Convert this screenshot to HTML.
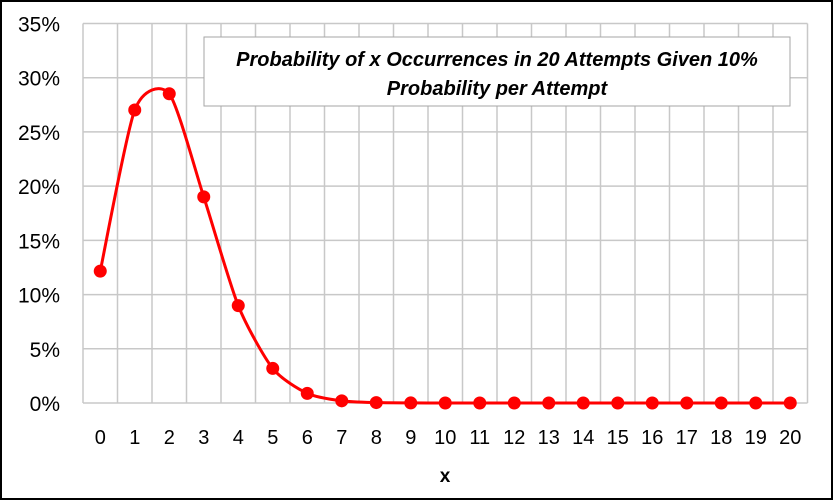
<!DOCTYPE html>
<html><head><meta charset="utf-8"><style>
html,body{margin:0;padding:0;background:#fff}
svg{display:block;font-family:"Liberation Sans",sans-serif}
</style></head><body>
<svg id="c" width="833" height="500" viewBox="0 0 833 500">
<rect x="1" y="1" width="831" height="498" fill="#fff" stroke="#000" stroke-width="2"/>
<g id="grid"></g>
<g id="ylab"></g>
<g id="xlab"></g>
<path id="curve" fill="none" stroke="#ff0000" stroke-width="3"/>
<g id="pts"></g>
<text x="445" y="482" text-anchor="middle" font-size="19" font-weight="bold" fill="#000">x</text>
<rect x="204" y="37" width="586" height="69" fill="#fff" stroke="#a6a6a6" stroke-width="1"/>
<text x="497" y="66" text-anchor="middle" font-size="20" font-weight="bold" font-style="italic" fill="#000">Probability of x Occurrences in 20 Attempts Given 10%</text>
<text x="497" y="95" text-anchor="middle" font-size="20" font-weight="bold" font-style="italic" fill="#000">Probability per Attempt</text>
</svg>
<script>
const categories=[0,1,2,3,4,5,6,7,8,9,10,11,12,13,14,15,16,17,18,19,20];
const values=[12.16,27.02,28.52,19.01,8.98,3.19,0.89,0.20,0.04,0.007,0.001,0,0,0,0,0,0,0,0,0,0];
const yTicks=[0,5,10,15,20,25,30,35];
const L=83,R=807.5,T=23.5,B=403,yMax=35;
const step=(R-L)/categories.length;
const X=i=>L+step*(i+0.5);
const Y=v=>B-(v/yMax)*(B-T);
const ns="http://www.w3.org/2000/svg";
const mk=(t,a)=>{const e=document.createElementNS(ns,t);for(const k in a)e.setAttribute(k,a[k]);return e;};
const grid=document.getElementById('grid');
yTicks.forEach(t=>{
  const l=mk('line',{x1:L,x2:R,y1:Y(t),y2:Y(t),stroke:'#c8c8c8','stroke-width':1.5});
  
  
  grid.appendChild(l);
  const tx=mk('text',{x:60,y:Y(t)+8,'text-anchor':'end','font-size':21,fill:'#000'});
  tx.textContent=t+'%';
  
  
  document.getElementById('ylab').appendChild(tx);
});
for(let i=0;i<=categories.length;i++){
  const l=mk('line',{x1:L+step*i,x2:L+step*i,y1:T,y2:B,stroke:'#c8c8c8','stroke-width':1.5});
  
  
  grid.appendChild(l);
}
categories.forEach((c,i)=>{
  const tx=mk('text',{x:X(i),y:444,'text-anchor':'middle','font-size':20,fill:'#000'});
  tx.textContent=c;
  
  
  document.getElementById('xlab').appendChild(tx);
});
const P=values.map((v,i)=>[X(i),Y(v)]);
let d='M'+P[0][0]+','+P[0][1];
for(let i=0;i<P.length-1;i++){
  const p0=P[Math.max(0,i-1)],p1=P[i],p2=P[i+1],p3=P[Math.min(P.length-1,i+2)];
  const k=0.12;
  const c1=[p1[0]+(p2[0]-p0[0])*k,p1[1]+(p2[1]-p0[1])*k];
  const c2=[p2[0]-(p3[0]-p1[0])*k,p2[1]-(p3[1]-p1[1])*k];
  d+=' C'+c1+' '+c2+' '+p2;
}
document.getElementById('curve').setAttribute('d',d);
P.forEach(p=>{
  const c=mk('circle',{cx:p[0],cy:p[1],r:6.5,fill:'#ff0000'});
  
  
  document.getElementById('pts').appendChild(c);
});
</script>
</body></html>
